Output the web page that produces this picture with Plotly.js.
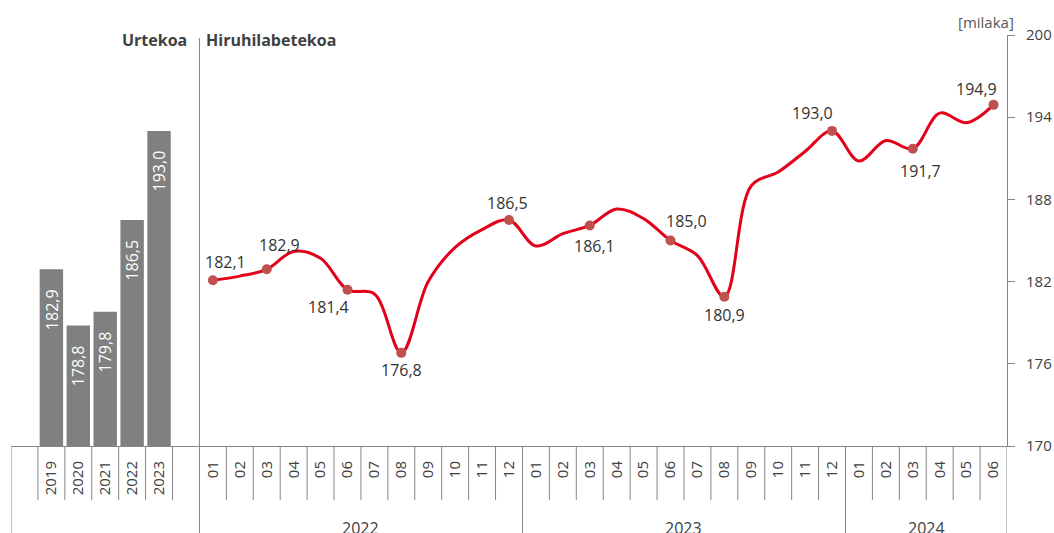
<!DOCTYPE html>
<html><head><meta charset="utf-8">
<script src="https://cdn.plot.ly/plotly-3.0.1.min.js"></script>
<style>html,body{margin:0;padding:0;background:#fff}#chart{width:1054px;height:533px}</style>
</head><body><div id="chart"></div>
<script>
// ---- data ----
const years = ["2019", "2020", "2021", "2022", "2023"];
const annualValues = [182.9, 178.8, 179.8, 186.5, 193.0];
const periodYears = ["2022", "2023", "2024"];
const monthsPerYear = [12, 12, 6];
const monthLabels = ["01","02","03","04","05","06","07","08","09","10","11","12"];
const monthlyValues = [
  182.1, 182.4, 182.9, 184.2, 183.7, 181.4, 181.1, 176.8, 182.0, 184.5, 185.8, 186.5,
  184.6, 185.5, 186.1, 187.3, 186.6, 185.0, 183.9, 180.9, 189.0, 190.0, 191.5, 193.0,
  190.8, 192.3, 191.7, 194.3, 193.6, 194.9
];
const labeledIdx = [0, 2, 5, 7, 11, 14, 17, 19, 23, 26, 29];
const yTicks = [170, 176, 182, 188, 194, 200];
const titleAnnual = "Urtekoa";
const titleQuarterly = "Hiruhilabetekoa";
const unitLabel = "[milaka]";

// ---- styles / positions ----
const labelOffsets = [[13,-18],[13,-24],[-19,17],[0,17],[-2,-17],[5,21],[16,-20],[0,18],[-20,-18],[8,22],[-17,-16]];
const FONT = "Open Sans, Noto Sans, sans-serif";
const AX = "#868686";
const TXT = "#404040";
const plotTop = 35, plotBottom = 446, plotH = plotBottom - plotTop;
const py = px => (plotBottom - px) / plotH;
const fmt = v => v.toFixed(1).replace(".", ",");

// categories
const cats = ["_pre", ...years, "_post"];
const tickText = ["", ...years, ""];
const monthKeys = [];
periodYears.forEach((y, gi) => {
  for (let m = 0; m < monthsPerYear[gi]; m++) {
    const k = y + "-" + monthLabels[m];
    monthKeys.push(k); cats.push(k); tickText.push(monthLabels[m]);
  }
});

// group boundaries (index of first category in each group)
const groupSizes = [years.length + 2, ...monthsPerYear];
const groupStarts = [];
let acc = 0;
groupSizes.forEach(s => { groupStarts.push(acc); acc += s; });
groupStarts.push(acc);

const shapes = [];
for (let k = 0; k <= cats.length; k++) {
  const isGroup = groupStarts.includes(k);
  shapes.push({type: "line", xref: "x", yref: "paper", x0: k - 0.5, x1: k - 0.5,
    y0: 0, y1: isGroup ? py(545) : py(500), line: {color: AX, width: 1}});
}
const splitX = years.length + 1.5;
shapes.push({type: "line", xref: "x", yref: "paper", x0: splitX, x1: splitX,
  y0: 0, y1: py(38), line: {color: AX, width: 1}});

const annotations = [];
// bar labels
years.forEach((y, i) => {
  annotations.push({x: cats.indexOf(y), y: annualValues[i], xref: "x", yref: "y", text: fmt(annualValues[i]),
    showarrow: false, textangle: -90, yanchor: "top", xanchor: "center", yshift: -18,
    font: {family: FONT, size: 16, color: "#ffffff"}});
});
// line labels
labeledIdx.forEach((idx, j) => {
  annotations.push({x: cats.indexOf(monthKeys[idx]), y: monthlyValues[idx], xref: "x", yref: "y",
    text: fmt(monthlyValues[idx]), showarrow: false, xanchor: "center", yanchor: "middle",
    xshift: labelOffsets[j][0], yshift: -labelOffsets[j][1],
    font: {family: FONT, size: 16, color: "#333333"}});
});
// group labels
periodYears.forEach((y, gi) => {
  const a = groupStarts[gi + 1], b = groupStarts[gi + 2];
  annotations.push({x: (a + b - 1) / 2, y: py(515), xref: "x", yref: "paper", text: y,
    showarrow: false, xanchor: "center", yanchor: "top",
    font: {family: FONT, size: 16, color: TXT}});
});
// section titles
annotations.push({x: splitX, y: py(40), xref: "x", yref: "paper", text: "<b>" + titleAnnual + "</b>",
  showarrow: false, xanchor: "right", yanchor: "middle", xshift: -10,
  font: {family: FONT, size: 16, color: TXT}});
annotations.push({x: splitX, y: py(40), xref: "x", yref: "paper", text: "<b>" + titleQuarterly + "</b>",
  showarrow: false, xanchor: "left", yanchor: "middle", xshift: 5,
  font: {family: FONT, size: 16, color: TXT}});
annotations.push({x: 1, y: py(22), xref: "paper", yref: "paper", text: unitLabel,
  showarrow: false, xanchor: "right", yanchor: "middle", xshift: 9,
  font: {family: FONT, size: 15, color: "#595959"}});

const traces = [
  {type: "bar", x: years, y: annualValues, marker: {color: "#808080"}, hoverinfo: "skip"},
  {type: "scatter", mode: "lines", x: monthKeys, y: monthlyValues,
    line: {color: "#e2001a", width: 3, shape: "spline", smoothing: 1}, hoverinfo: "skip"},
  {type: "scatter", mode: "markers", x: labeledIdx.map(i => monthKeys[i]), y: labeledIdx.map(i => monthlyValues[i]),
    marker: {color: "#c0504d", size: 10}, hoverinfo: "skip"}
];

const layout = {
  width: 1054, height: 533,
  margin: {l: 11, r: 47, t: plotTop, b: 533 - plotBottom, pad: 0},
  paper_bgcolor: "#ffffff", plot_bgcolor: "#ffffff",
  showlegend: false, bargap: 0.13,
  font: {family: FONT, color: TXT},
  xaxis: {type: "category", categoryorder: "array", categoryarray: cats,
    range: [-0.5, cats.length - 0.5], tickmode: "array", tickvals: cats, ticktext: tickText,
    tickangle: -90, ticks: "", showline: true, linecolor: AX, linewidth: 1, showgrid: false,
    zeroline: false, tickfont: {family: FONT, size: 15, color: TXT}, ticklabelstandoff: 8, fixedrange: true},
  yaxis: {side: "right", range: [170, 200], tickmode: "array", tickvals: yTicks,
    ticks: "outside", ticklen: 7, tickcolor: AX, showline: true, linecolor: AX, linewidth: 1,
    showgrid: false, zeroline: false, tickfont: {family: FONT, size: 15, color: TXT},
    ticklabelstandoff: 8, fixedrange: true},
  shapes: shapes, annotations: annotations
};

Plotly.newPlot("chart", traces, layout, {staticPlot: true, displayModeBar: false});
</script></body></html>
